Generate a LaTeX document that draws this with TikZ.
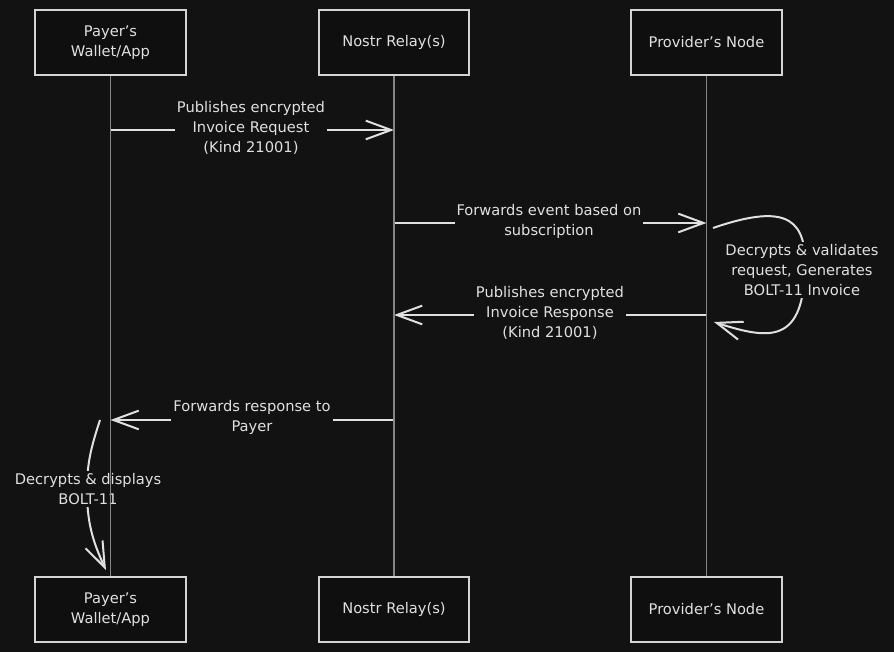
\documentclass[tikz,border=0pt]{standalone}
\usepackage{fontspec}
\setmainfont{DejaVu Sans}
\usetikzlibrary{arrows.meta}
\definecolor{bg}{HTML}{121212}
\definecolor{boxfill}{HTML}{0F0F0F}
\definecolor{ink}{HTML}{E0E0E0}
\definecolor{boxline}{HTML}{D4D4D4}
\definecolor{life}{HTML}{858585}
\tikzset{
  actor/.style={draw=boxline, fill=boxfill, line width=1.6pt, rectangle,
    minimum width=113pt, minimum height=48.75pt, align=center,
    text=ink, font=\fontsize{11}{15}\selectfont, inner sep=0pt},
  lifeline/.style={draw=life, line width=0.8pt},
  msg/.style={draw=ink, line width=1.5pt,
    -{Straight Barb[length=19pt,width=14pt,line width=1.5pt]}},
  lbl/.style={fill=bg, text=ink, align=center, inner sep=1.5pt,
    font=\fontsize{11}{15}\selectfont}
}
\begin{document}
\begin{tikzpicture}[x=0.75pt,y=-0.75pt]
\fill[bg] (0,0) rectangle (894,652);
\useasboundingbox (0,0) rectangle (894,652);
% actors
\node[actor] (pt) at (110.5,42.5) {Payer's\\Wallet/App};
\node[actor] (rt) at (394,42.5) {Nostr Relay(s)};
\node[actor] (nt) at (706.5,42.5) {Provider's Node};
\node[actor] (pb) at (110.5,609.5) {Payer's\\Wallet/App};
\node[actor] (rb) at (394,609.5) {Nostr Relay(s)};
\node[actor] (nb) at (706.5,609.5) {Provider's Node};
% message anchor points
\coordinate (m1a) at (110.5,130);
\coordinate (m1b) at (394,130);
\coordinate (m2a) at (394,223);
\coordinate (m2b) at (706.5,223);
\coordinate (s1a) at (713,228);
\coordinate (s1b) at (714,322);
\coordinate (m4a) at (706.5,315);
\coordinate (m4b) at (394,315);
\coordinate (m5a) at (394,420);
\coordinate (m5b) at (110.5,420);
\coordinate (s2a) at (100,420);
\coordinate (s2b) at (106,570);
% messages
\draw[msg] (m1a) -- (m1b);
\node[lbl] (l1) at (251,128) {Publishes encrypted\\Invoice Request\\(Kind 21001)};
\draw[msg] (m2a) -- (m2b);
\node[lbl] (l2) at (549,221) {Forwards event based on\\subscription};
\draw[msg] (s1a) .. controls (780,205) and (805,215) .. (805,262)
  .. controls (805,345) and (770,340) .. (s1b);
\node[lbl] (l3) at (802,270) {Decrypts \& validates\\request, Generates\\BOLT-11 Invoice};
\draw[msg] (m4a) -- (m4b);
\node[lbl] (l4) at (550,313) {Publishes encrypted\\Invoice Response\\(Kind 21001)};
\draw[msg] (m5a) -- (m5b);
\node[lbl] (l5) at (252,417) {Forwards response to\\Payer};
\draw[msg] (s2a) to[out=-108,in=90] (87,490) to[out=-90,in=115] (s2b);
\node[lbl] (l6) at (88,489) {Decrypts \& displays\\BOLT-11};
% lifelines (drawn last, they show through the label)
\draw[lifeline] (pt.south) -- (pb.north);
\draw[lifeline] (rt.south) -- (rb.north);
\draw[lifeline] (nt.south) -- (nb.north);
\end{tikzpicture}
\end{document}
